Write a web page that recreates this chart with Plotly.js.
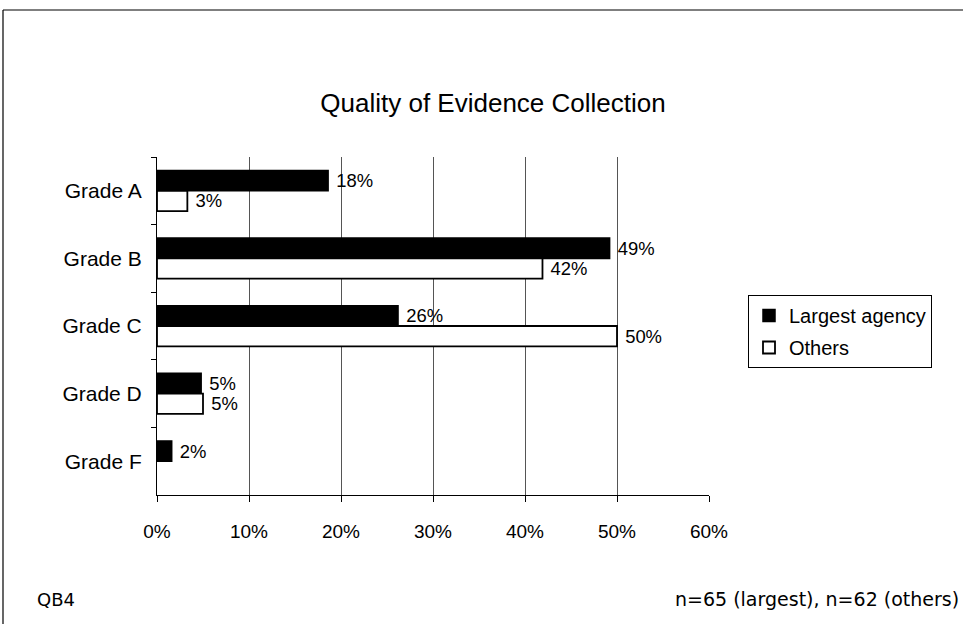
<!DOCTYPE html>
<html>
<head>
<meta charset="utf-8">
<script src="https://cdn.plot.ly/plotly-3.0.1.min.js"></script>
<style>html,body{margin:0;padding:0;background:#fff;}#chart{width:963px;height:626px;}</style>
</head>
<body>
<div id="chart"></div>
<script>
const categories = ["Grade A", "Grade B", "Grade C", "Grade D", "Grade F"];
const largestValues = [18.6, 49.2, 26.2, 4.8, 1.6];
const largestLabels = ["18%", "49%", "26%", "5%", "2%"];
const othersValues = [3.3, 41.9, 50.0, 5.0, null];
const othersLabels = ["3%", "42%", "50%", "5%", ""];
const xTickValues = [0, 10, 20, 30, 40, 50, 60];
const xTickLabels = ["0%", "10%", "20%", "30%", "40%", "50%", "60%"];

const FONT = "Liberation Sans, Arial, sans-serif";
const NOTE_FONT = "DejaVu Sans, sans-serif";

const traces = [
  {
    type: "bar", orientation: "h", name: "Largest agency", legendgroup: "a",
    y: categories, x: largestValues,
    text: largestLabels, texttemplate: " %{text}", textposition: "outside", cliponaxis: false,
    textfont: {family: FONT, size: 20, color: "#000"},
    marker: {color: "#000", line: {color: "#000", width: 1.5}},
    hoverinfo: "none"
  },
  {
    type: "bar", orientation: "h", name: "Others", legendgroup: "b",
    y: categories, x: othersValues,
    text: othersLabels, texttemplate: " %{text}", textposition: "outside", cliponaxis: false,
    textfont: {family: FONT, size: 20, color: "#000"},
    marker: {color: "#fff", line: {color: "#000", width: 1.8}},
    hoverinfo: "none"
  }
];

const layout = {
  width: 963, height: 626,
  paper_bgcolor: "#fff", plot_bgcolor: "#fff",
  margin: {l: 157, r: 254, t: 157, b: 131},
  font: {family: FONT, size: 19, color: "#000"},
  title: {
    text: "Quality of Evidence Collection",
    font: {family: FONT, size: 26, color: "#000"},
    x: 493 / 963, xref: "container", xanchor: "center",
    y: 1 - 103 / 626, yref: "container", yanchor: "middle"
  },
  barmode: "group", bargap: 0.4, bargroupgap: 0,
  xaxis: {
    range: [0, 60], tickvals: xTickValues, ticktext: xTickLabels,
    showgrid: true, gridcolor: "#555", gridwidth: 1,
    showline: true, linecolor: "#000", linewidth: 1,
    ticks: "outside", ticklen: 6, tickcolor: "#000",
    ticklabelstandoff: 13, zeroline: false,
    tickfont: {family: FONT, size: 19, color: "#000"}
  },
  yaxis: {
    type: "category", autorange: "reversed",
    showgrid: false, showline: true, linecolor: "#000", linewidth: 1,
    ticks: "outside", ticklen: 5, tickcolor: "#000", tickson: "boundaries",
    ticklabelstandoff: 10,
    tickfont: {family: FONT, size: 21, color: "#000"}
  },
  legend: {
    x: (748 - 157) / 552, xanchor: "left",
    y: (495 - 295) / 338, yanchor: "top",
    bordercolor: "#000", borderwidth: 1, bgcolor: "#fff",
    font: {family: FONT, size: 20, color: "#000"},
    traceorder: "grouped", tracegroupgap: 3, itemwidth: 30
  },
  annotations: [
    {text: "QB4", xref: "paper", yref: "paper", x: (35 - 157) / 552, y: (495 - 599) / 338,
     xanchor: "left", yanchor: "middle", showarrow: false,
     font: {family: NOTE_FONT, size: 18, color: "#000"}},
    {text: "n=65 (largest), n=62 (others)", xref: "paper", yref: "paper", x: (673 - 157) / 552, y: (495 - 599) / 338,
     xanchor: "left", yanchor: "middle", showarrow: false,
     font: {family: NOTE_FONT, size: 19, color: "#000"}}
  ],
  shapes: [
    {type: "line", xref: "paper", yref: "paper",
     x0: (3 - 157) / 552, x1: (3 - 157) / 552, y0: (495 - 10) / 338, y1: (495 - 624) / 338,
     line: {color: "#000", width: 1.2}},
    {type: "line", xref: "paper", yref: "paper",
     x0: (3 - 157) / 552, x1: (975 - 157) / 552, y0: (495 - 10) / 338, y1: (495 - 10) / 338,
     line: {color: "#000", width: 1.2}}
  ],
  showlegend: true
};

Plotly.newPlot("chart", traces, layout, {staticPlot: true, displayModeBar: false});
</script>
</body>
</html>
